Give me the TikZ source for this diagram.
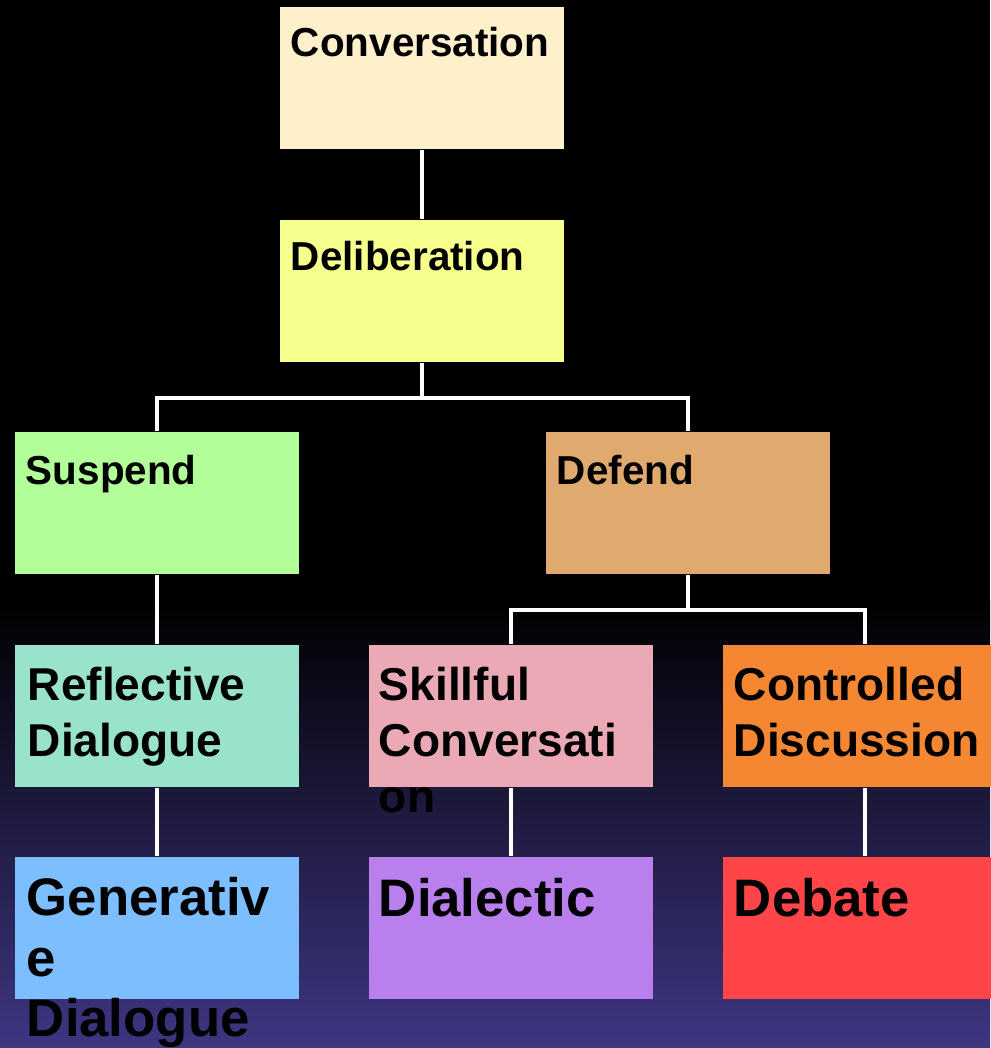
\documentclass[tikz,border=0pt]{standalone}
\usepackage{fontspec}
\setsansfont{Liberation Sans}
\usetikzlibrary{calc}
\usetikzlibrary{positioning}
\definecolor{bg-purple}{RGB}{62, 54, 130}
\definecolor{c-conv}{RGB}{255, 240, 204}
\definecolor{c-delib}{RGB}{246, 255, 140}
\definecolor{c-susp}{RGB}{178, 255, 153}
\definecolor{c-defd}{RGB}{224, 169, 110}
\definecolor{c-refl}{RGB}{153, 227, 204}
\definecolor{c-skill}{RGB}{235, 169, 181}
\definecolor{c-ctrl}{RGB}{245, 135, 51}
\definecolor{c-gen}{RGB}{125, 190, 255}
\definecolor{c-dial}{RGB}{185, 128, 237}
\definecolor{c-deb}{RGB}{255, 69, 71}
\tikzset{
  box/.style={rectangle, inner sep=0pt, minimum width=2.84cm, minimum height=1.42cm},
  link/.style={draw=white, line width=1.1pt},
  lbl/.style={anchor=base west, inner sep=0pt, align=left, text=black, font=\sffamily\bfseries},
  lblA/.style={lbl, font=\sffamily\bfseries\fontsize{11.5}{14}\selectfont},
  lblB/.style={lbl, font=\sffamily\bfseries\fontsize{13.1}{15.9}\selectfont},
  lblC/.style={lbl, font=\sffamily\bfseries\fontsize{15}{17.1}\selectfont}
}

\begin{document}
\begin{tikzpicture}[x=0.01cm, y=-0.01cm]
\useasboundingbox (0,0) rectangle (990,1048);
\fill[black] (0,0) rectangle (990,600);
\shade[top color=black, bottom color=bg-purple] (0,600) rectangle (990,1048);

% boxes
\node[box, fill=c-conv] (conv) at (422,78) {};
\node[box, fill=c-delib] (delib) at (422,291) {};
\node[box, fill=c-susp] (susp) at (157,503) {};
\node[box, fill=c-defd] (defd) at (688,503) {};
\node[box, fill=c-refl] (refl) at (157,716) {};
\node[box, fill=c-skill] (skill) at (511,716) {};
\node[box, fill=c-ctrl] (ctrl) at (865,716) {};
\node[box, fill=c-gen] (gen) at (157,928) {};
\node[box, fill=c-dial] (dial) at (511,928) {};
\node[box, fill=c-deb] (deb) at (865,928) {};

% connectors
\draw[link] (conv) -- (delib);
\coordinate (j1) at ($(delib.south)+(0,35)$);
\draw[link] (delib.south) -- (j1);
\draw[link] (susp.north) |- (j1) -| (defd.north);
\coordinate (j2) at ($(defd.south)+(0,35)$);
\draw[link] (defd.south) -- (j2);
\draw[link] (skill.north) |- (j2) -| (ctrl.north);
\draw[link] (susp) -- (refl);
\draw[link] (refl) -- (gen);
\draw[link] (skill) -- (dial);
\draw[link] (ctrl) -- (deb);

% labels (base = last line, so add the leading for each extra line)
\node[lblA] (convtxt) at ($(conv.north west)+(11,50)$) {Conversation};
\node[lblA] (delibtxt) at ($(delib.north west)+(11,51)$) {Deliberation};
\node[lblA] (susptxt) at ($(susp.north west)+(11,53)$) {Suspend};
\node[lblA] (defdtxt) at ($(defd.north west)+(11,53)$) {Defend};
\node[lblB] (refltxt) at ($(refl.north west)+(13,112)$) {Reflective\\Dialogue};
\node[lblB] (skilltxt) at ($(skill.north west)+(10,168)$) {Skillful\\Conversati\\on};
\node[lblB] (ctrltxt) at ($(ctrl.north west)+(11,112)$) {Controlled\\Discussion};
\node[lblC] (gentxt) at ($(gen.north west)+(12,180)$) {Generativ\\e\\Dialogue};
\node[lblC] (dialtxt) at ($(dial.north west)+(10,60)$) {Dialectic};
\node[lblC] (debtxt) at ($(deb.north west)+(11,60)$) {Debate};
\end{tikzpicture}
\end{document}
